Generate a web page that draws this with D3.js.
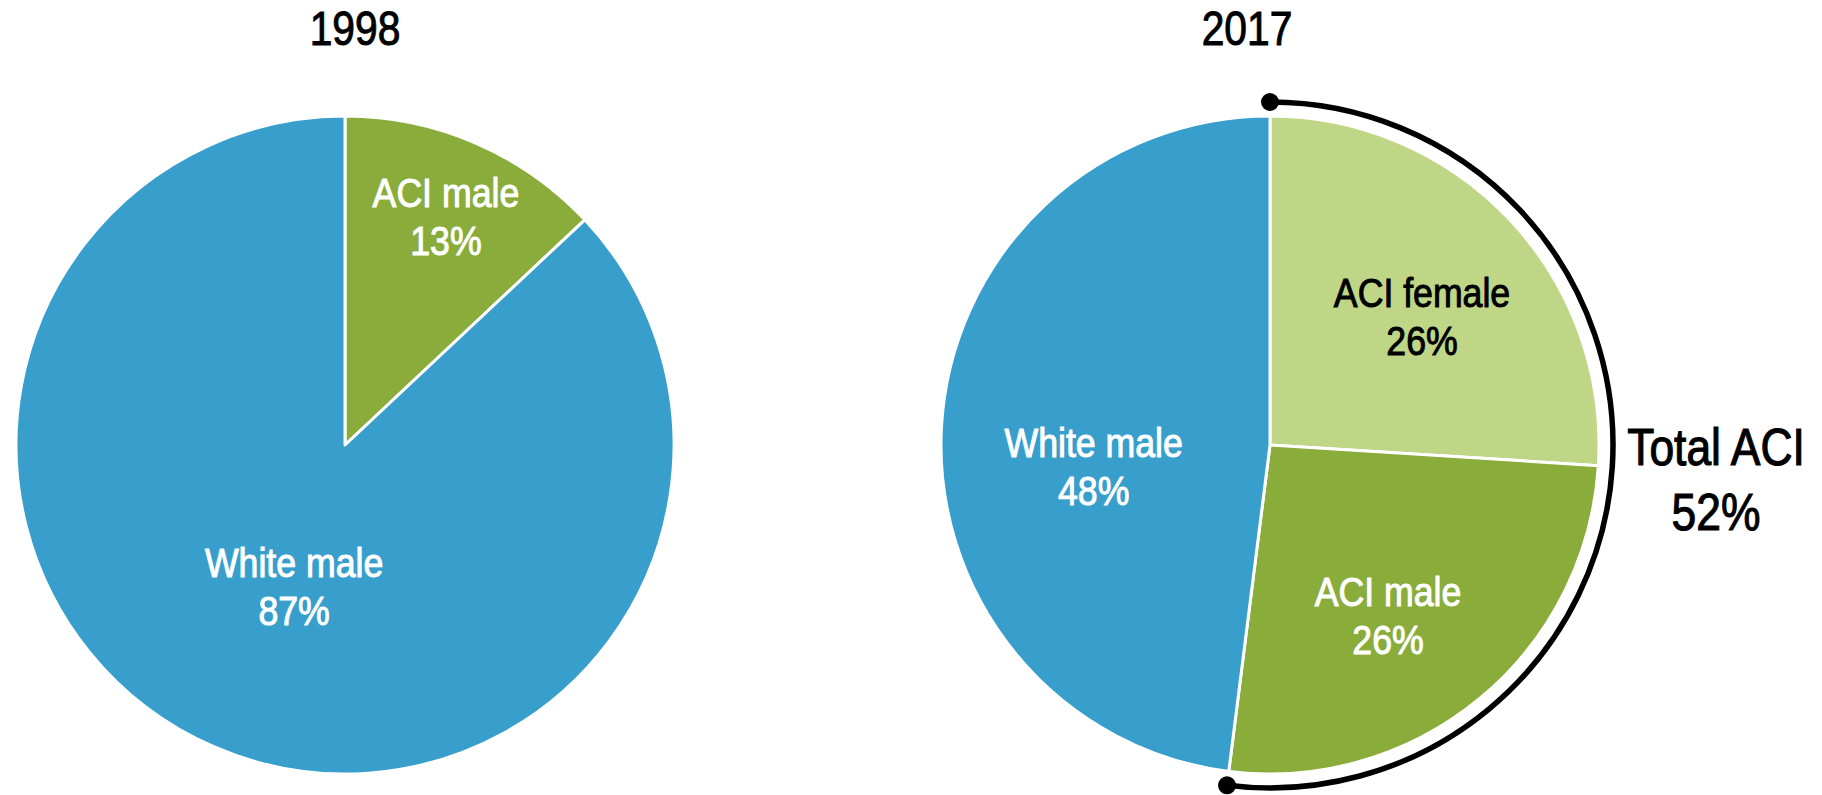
<!doctype html>
<html lang="en">
  <head>
    <meta charset="utf-8">
    <title>ACI share 1998 vs 2017</title>
    <style>
      body { margin: 0; background: #fff; }
      text { font-family: "Liberation Sans", Arial, sans-serif; }
    </style>
  </head>
  <body>
    <div id="chart"></div>

    <script src="https://d3js.org/d3.v7.min.js"></script>
    <script type="text/javascript">
      // data
      const years = ["1998", "2017"];
      const groups1998 = ["ACI male", "White male"];
      const values1998 = [13, 87];
      const groups2017 = ["ACI female", "ACI male", "White male"];
      const values2017 = [26, 26, 48];
      const totalLabel = "Total ACI";
      const totalGroups = ["ACI female", "ACI male"];

      const w = 1822;
      const h = 795;
      // no condensed face is installed, so squeeze the regular one
      const squeeze = 0.87;

      const colour = d3.scaleOrdinal()
        .domain(["White male", "ACI male", "ACI female"])
        .range(["#389fcd", "#89ac3b", "#bed685"]);
      const textColour = d3.scaleOrdinal()
        .domain(["White male", "ACI male", "ACI female"])
        .range(["#fff", "#fff", "#000"]);

      // layout, label anchors in polar terms (degrees from 12 o'clock, fraction of radius)
      const r = 329;
      const charts = [
        { cx: 345, cy: 445, titleX: 355, groups: groups1998, values: values1998,
          labelPos: [[23.8, 0.76], [199.8, 0.457]] },
        { cx: 1270, cy: 445, titleX: 1247, groups: groups2017, values: values2017,
          labelPos: [[49.8, 0.605], [145.3, 0.63], [263, 0.54]] }
      ];

      const svg = d3.select('#chart')
                    .append('svg')
                    .attr("width", w)
                    .attr("height", h);

      const pie = d3.pie().sort(null).value(d => d.value);
      const arc = d3.arc().innerRadius(0).outerRadius(r);

      charts.forEach((c, ci) => {
        const data = c.groups.map((g, i) => ({ group: g, value: c.values[i] }));

        svg.append('text')
          .attr('transform', `translate(${c.titleX},45) scale(0.85,1)`)
          .attr('text-anchor', 'middle')
          .attr('font-size', 48)
          .attr('fill', '#000')
          .attr('stroke', '#000')
          .attr('stroke-width', 1)
          .text(years[ci]);

        const g = svg.append('g').attr('transform', `translate(${c.cx},${c.cy})`);

        g.selectAll('path')
          .data(pie(data))
          .enter()
          .append('path')
          .attr('d', arc)
          .attr('fill', d => colour(d.data.group))
          .attr('stroke', '#fff')
          .attr('stroke-width', 3)
          .attr('stroke-linejoin', 'round');

        const lab = g.selectAll('.lab')
          .data(data)
          .enter()
          .append('text')
          .attr('class', 'lab')
          .attr('text-anchor', 'middle')
          .attr('font-size', 41)
          .attr('fill', d => textColour(d.group))
          .attr('stroke', d => textColour(d.group))
          .attr('stroke-width', 1)
          .attr('transform', (d, i) => {
            const p = d3.pointRadial(c.labelPos[i][0] * Math.PI / 180, c.labelPos[i][1] * r);
            return `translate(${p[0]},${p[1]}) scale(${squeeze},1)`;
          });
        lab.append('tspan').attr('x', 0).attr('y', -9.5).text(d => d.group);
        lab.append('tspan').attr('x', 0).attr('y', 38.5).text(d => d.value + '%');

        // bracket round the ACI slices in the later year
        if (ci === 1) {
          const aci = data.filter(d => totalGroups.includes(d.group));
          const total = d3.sum(aci, d => d.value);
          const end = total / d3.sum(data, d => d.value) * 2 * Math.PI;
          const br = 343;

          g.append('path')
            .attr('d', d3.arc().innerRadius(br).outerRadius(br).startAngle(0).endAngle(end)())
            .attr('fill', 'none')
            .attr('stroke', '#000')
            .attr('stroke-width', 5.5);

          g.selectAll('.dot')
            .data([0, end])
            .enter()
            .append('circle')
            .attr('class', 'dot')
            .attr('cx', a => d3.pointRadial(a, br)[0])
            .attr('cy', a => d3.pointRadial(a, br)[1])
            .attr('r', 9)
            .attr('fill', '#000');

          const t = g.append('text')
            .attr('text-anchor', 'middle')
            .attr('font-size', 51)
            .attr('fill', '#000')
            .attr('stroke', '#000')
            .attr('stroke-width', 1.1)
            .attr('transform', `translate(${br + 103},0) scale(${squeeze},1)`);
          t.append('tspan').attr('x', 0).attr('y', 20).text(totalLabel);
          t.append('tspan').attr('x', 0).attr('y', 85).text(total + '%');
        }
      });
    </script>
  </body>
</html>
